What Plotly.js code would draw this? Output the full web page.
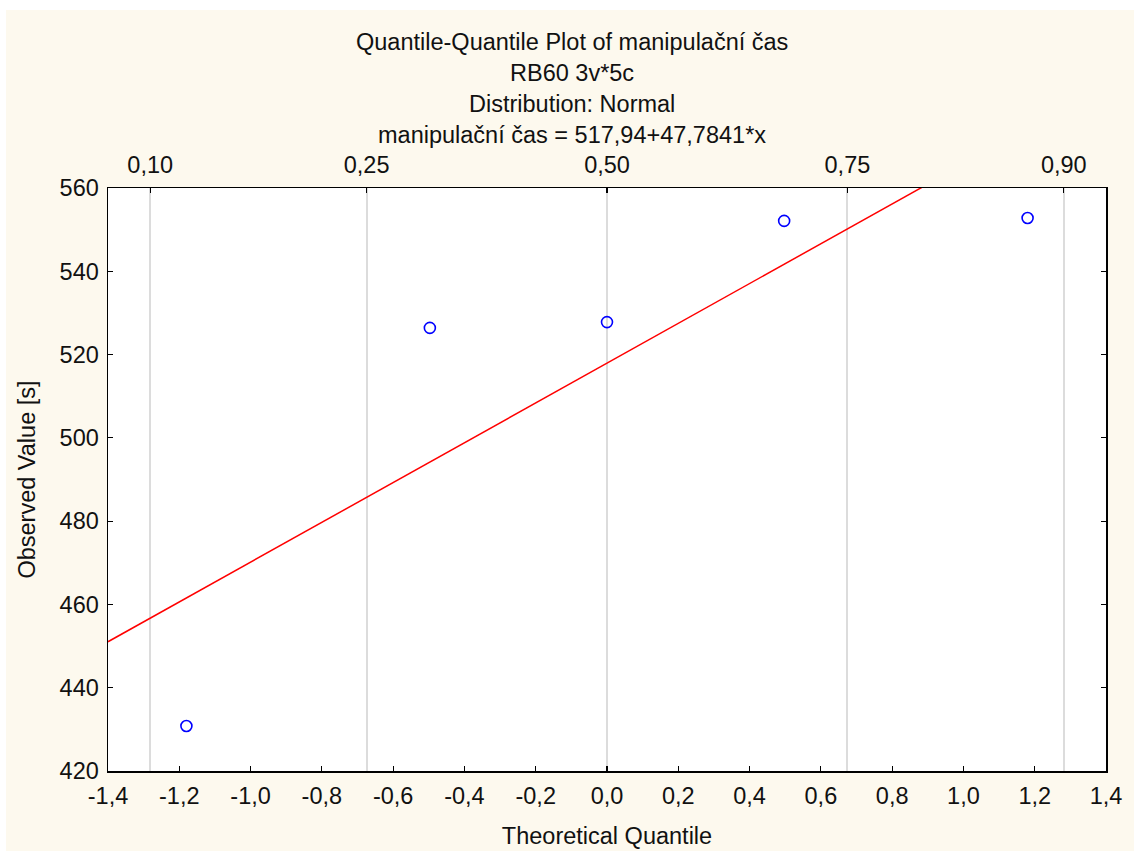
<!DOCTYPE html>
<html>
<head>
<meta charset="utf-8">
<script src="https://cdn.plot.ly/plotly-3.0.1.min.js"></script>
<style>
  html, body { margin: 0; padding: 0; background: #ffffff; }
  #chart { position: absolute; left: 6px; top: 10px; width: 1128px; height: 841px; }
</style>
</head>
<body>
<div id="chart"></div>
<script>
// ---- data ----
const theoreticalQuantiles = [-1.18, -0.497, 0.0, 0.497, 1.18];
const observedValues = [430.8, 526.4, 527.8, 552.1, 552.8];
const fitIntercept = 517.94;
const fitSlope = 47.7841;
const fitLineX = [-1.4, 1.4];
const probTickValues = [-1.2816, -0.6745, 0.0, 0.6745, 1.2816];
const probTickLabels = ["0,10", "0,25", "0,50", "0,75", "0,90"];
const xTickValues = [-1.4, -1.2, -1.0, -0.8, -0.6, -0.4, -0.2, 0.0, 0.2, 0.4, 0.6, 0.8, 1.0, 1.2, 1.4];
const xTickLabels = ["-1,4", "-1,2", "-1,0", "-0,8", "-0,6", "-0,4", "-0,2", "0,0", "0,2", "0,4", "0,6", "0,8", "1,0", "1,2", "1,4"];
const yTickValues = [420, 440, 460, 480, 500, 520, 540, 560];
const titleLines = [
  "Quantile-Quantile Plot of manipulační čas",
  "RB60 3v*5c",
  "Distribution: Normal",
  "manipulační čas = 517,94+47,7841*x"
];

const fitLineY = fitLineX.map(x => fitIntercept + fitSlope * x);

const FONT = "Liberation Sans, Arial, sans-serif";
const txt = "#111111";
const FS = 23.5;

const traces = [
  {
    x: fitLineX, y: fitLineY, type: "scatter", mode: "lines",
    line: { color: "#ff0000", width: 1.5 }, hoverinfo: "skip", showlegend: false
  },
  {
    x: theoreticalQuantiles, y: observedValues, type: "scatter", mode: "markers",
    marker: { symbol: "circle-open", size: 11, color: "#0000ff", line: { width: 1.6, color: "#0000ff" } },
    showlegend: false, cliponaxis: false
  },
  {
    x: [null], y: [null], xaxis: "x2", yaxis: "y", type: "scatter", mode: "markers",
    showlegend: false, hoverinfo: "skip"
  }
];

const titleY = [1.2504, 1.1973, 1.1441, 1.0909];
const annotations = titleLines.map((t, i) => ({
  text: t, xref: "paper", yref: "paper", x: 0.4654, y: titleY[i],
  xanchor: "center", yanchor: "middle", showarrow: false,
  font: { family: FONT, size: FS, color: txt }
}));

const layout = {
  width: 1128, height: 841,
  paper_bgcolor: "#fdf9ee",
  plot_bgcolor: "#ffffff",
  margin: { l: 102, r: 28, t: 178, b: 80 },
  showlegend: false,
  font: { family: FONT, size: FS, color: txt },
  annotations: annotations,
  xaxis: {
    range: [-1.4, 1.4], tickmode: "array", tickvals: xTickValues, ticktext: xTickLabels,
    ticks: "inside", ticklen: 5, tickwidth: 1.2, tickcolor: "#000", ticklabelstandoff: 3,
    showgrid: false, zeroline: false, showline: true, linecolor: "#000", linewidth: 1.5,
    tickfont: { family: FONT, size: FS, color: txt },
    title: { text: "Theoretical Quantile", font: { family: FONT, size: FS, color: txt }, standoff: 20 },
    automargin: false
  },
  xaxis2: {
    overlaying: "x", side: "top", anchor: "y",
    range: [-1.4, 1.4], tickmode: "array", tickvals: probTickValues, ticktext: probTickLabels,
    ticks: "inside", ticklen: 5, tickwidth: 1.2, tickcolor: "#000", ticklabelstandoff: 4,
    showgrid: true, gridcolor: "#dcdcdc", gridwidth: 2,
    zeroline: false, showline: true, linecolor: "#000", linewidth: 1.5,
    tickfont: { family: FONT, size: FS, color: txt },
    automargin: false, layer: "below traces"
  },
  yaxis: {
    range: [420, 560], tickmode: "array", tickvals: yTickValues,
    ticks: "inside", ticklen: 5, tickwidth: 1.2, tickcolor: "#000", ticklabelstandoff: 3,
    showgrid: false, zeroline: false, showline: true, linecolor: "#000", linewidth: 1.5,
    mirror: "ticks",
    tickfont: { family: FONT, size: FS, color: txt },
    title: { text: "Observed Value [s]", font: { family: FONT, size: FS, color: txt }, standoff: 17 },
    automargin: false
  }
};

Plotly.newPlot("chart", traces, layout, { displayModeBar: false, staticPlot: true });
</script>
</body>
</html>
